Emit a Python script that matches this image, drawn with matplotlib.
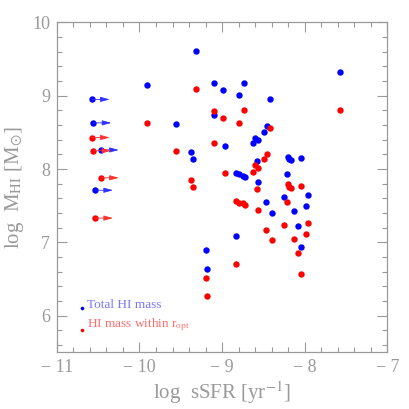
import numpy as np
import matplotlib.pyplot as plt
from matplotlib.ticker import MultipleLocator

# log sSFR for each galaxy, and HI mass (total / within r_opt)
ssfr = [-9.31, -7.57, -9.91, -9.10, -8.74, -8.99, -8.80, -8.42, -10.58, -10.56,
        -9.56, -9.10, -8.46, -8.49, -8.60, -8.57, -8.62, -8.97, -10.47, -9.38,
        -9.35, -8.58, -8.20, -8.19, -8.17, -8.04, -8.83, -8.79, -8.75, -8.72,
        -8.21, -8.56, -10.54, -7.96, -8.25, -8.47, -7.99, -8.39, -8.13, -8.08,
        -8.83, -8.04, -9.19, -9.18]
mhi_total = [9.61, 9.33, 9.15, 9.17, 9.17, 9.08, 9.01, 8.95, 8.95, 8.63,
             8.62, 8.74, 8.59, 8.50, 8.43, 8.39, 8.35, 8.31, 8.26, 8.23,
             8.14, 8.11, 8.16, 8.13, 8.12, 8.15, 7.95, 7.93, 7.91, 7.89,
             7.93, 7.82, 7.71, 7.64, 7.62, 7.55, 7.49, 7.40, 7.42, 7.22,
             7.09, 6.94, 6.90, 6.64]
mhi_opt = [9.09, 8.81, 8.63, 8.79, 8.80, 8.70, 8.63, 8.56, 8.43, 8.25,
           8.25, 8.36, 8.21, 8.13, 8.05, 8.01, 7.96, 7.94, 7.88, 7.85,
           7.76, 7.73, 7.79, 7.76, 7.74, 7.77, 7.56, 7.54, 7.53, 7.51,
           7.55, 7.44, 7.33, 7.26, 7.24, 7.17, 7.11, 7.03, 7.05, 6.85,
           6.71, 6.56, 6.51, 6.26]
# upper limits on sSFR (drawn with arrows)
limit = [8, 9, 18, 32]

gray = '#9a9a9a'
plt.rcParams['font.family'] = ['Liberation Serif', 'DejaVu Serif']
plt.rcParams['mathtext.fontset'] = 'stix'

fig = plt.figure(figsize=(4.09, 4.09), dpi=100)
ax = fig.add_axes([0.139, 0.139, 0.808, 0.806])

ax.plot(ssfr, mhi_total, 'o', color='#0000ff', ms=4.6, mec='none', zorder=3)
ax.plot(ssfr, mhi_opt, 'o', color='#ff0000', ms=4.6, mec='none', zorder=4)

for i in limit:
    ax.annotate('', xy=(ssfr[i] + 0.22, mhi_total[i]), xytext=(ssfr[i], mhi_total[i]),
                arrowprops=dict(arrowstyle='-|>,head_length=0.55,head_width=0.15',
                                color='#3030ff', lw=0.6, shrinkA=0, shrinkB=0), zorder=3)
    ax.annotate('', xy=(ssfr[i] + 0.22, mhi_opt[i]), xytext=(ssfr[i], mhi_opt[i]),
                arrowprops=dict(arrowstyle='-|>,head_length=0.55,head_width=0.15',
                                color='#ff3030', lw=0.6, shrinkA=0, shrinkB=0), zorder=4)

# legend drawn by hand like the original
ax.plot([-10.70], [6.10], 'o', color='#0000ff', ms=2.6, mec='none')
ax.plot([-10.70], [5.80], 'o', color='#ff0000', ms=2.6, mec='none')
ax.text(-10.63, 6.06, 'Total HI mass', color='#7878ff', fontsize=9.5, va='bottom')
ax.text(-10.63, 5.76, r'HI mass within r$_{\rm opt}$', color='#ff6e6e', fontsize=9.5,
        va='bottom')

ax.set_xlim(-11, -7)
ax.set_ylim(5.5, 10)
ax.xaxis.set_major_locator(MultipleLocator(1))
ax.xaxis.set_minor_locator(MultipleLocator(0.2))
ax.yaxis.set_major_locator(MultipleLocator(1))
ax.yaxis.set_minor_locator(MultipleLocator(0.2))
ax.set_xticks([-11, -10, -9, -8, -7])
ax.set_xticklabels(['\u2212 11', '\u2212 10', '\u2212 9', '\u2212 8', '\u2212 7'])

ax.tick_params(which='both', direction='in', top=True, right=True, colors=gray,
               labelcolor=gray, labelsize=13, width=0.8)
ax.tick_params(which='major', length=7, pad=5)
ax.tick_params(which='minor', length=3.5)
for s in ax.spines.values():
    s.set_color(gray)
    s.set_linewidth(0.9)

ax.set_xlabel(r'log  sSFR [yr$^{-1}$]', color=gray, fontsize=15, labelpad=2)
ax.set_ylabel(r'log  M$_{\rm HI}$ [M$_{\odot}$]', color=gray, fontsize=15, labelpad=4)

plt.savefig('out.png', dpi=100)
